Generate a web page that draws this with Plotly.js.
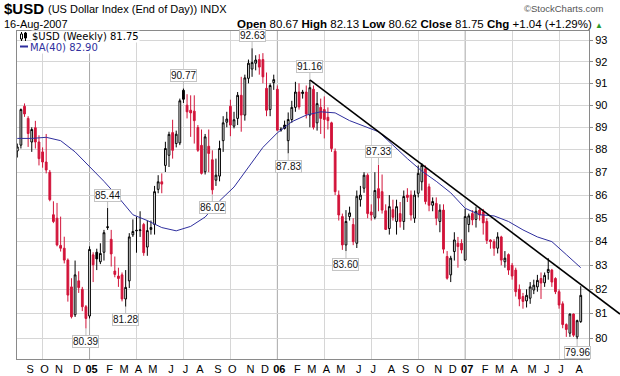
<!DOCTYPE html>
<html><head><meta charset="utf-8">
<script src="https://cdn.plot.ly/plotly-3.0.1.min.js"></script>
<style>html,body{margin:0;padding:0;background:#fff}#chart{width:620px;height:376px}</style>
</head><body><div id="chart"></div>
<script>
// Weekly bars, one per week starting Monday 2004-08-16
const firstWeek = '2004-08-16';
const open = [87.94,88.2,89.95,89.4,88.34,88.98,88.34,87.9,87.45,87.0,
85.15,85.0,83.84,83.72,83.22,82.1,80.95,82.35,82.0,81.28,
80.9,83.44,83.55,83.15,83.55,84.6,84.1,82.76,82.55,82.6,
81.6,82.35,84.29,84.46,84.47,84.73,83.77,84.52,84.73,86.25,
86.58,87.3,87.75,88.76,88.27,88.3,90.68,90.0,89.77,89.73,
88.99,88.19,87.02,88.15,87.55,86.65,86.83,88.4,89.23,89.95,
89.05,89.4,90.45,89.55,91.23,91.66,91.93,92.1,92.1,90.77,
89.8,91.03,90.73,88.92,89.1,88.4,89.35,89.9,90.6,90.53,
90.6,89.55,90.73,89.2,89.9,89.8,89.45,89.2,87.93,86.0,
85.07,83.86,85.07,84.73,83.93,85.8,86.3,86.87,85.27,85.04,
86.28,86.15,85.32,84.56,85.37,84.86,85.2,84.86,86.0,86.0,
85.0,86.08,86.58,87.15,86.36,85.56,85.64,84.86,85.35,83.37,
82.6,83.58,83.93,83.93,83.22,84.73,85.2,84.95,85.35,85.27,
84.86,84.07,84.0,83.72,84.2,83.15,83.45,83.0,82.8,82.0,
81.7,81.52,81.63,81.97,82.1,82.45,82.27,82.7,82.8,82.45,
81.9,81.4,80.55,80.2,80.98,80.05,80.67];
const high = [88.27,89.85,90.08,89.5,89.0,89.29,88.64,88.1,88.7,87.1,
85.73,85.66,85.07,84.21,83.29,82.46,83.2,82.75,82.1,81.35,
83.8,83.55,83.7,83.93,84.5,85.44,84.5,83.37,82.9,82.7,
82.8,84.36,84.95,85.07,85.3,84.8,84.9,84.9,86.4,86.87,
86.95,88.35,88.8,89.34,88.85,90.3,90.77,90.5,90.45,90.45,
89.1,88.9,88.7,88.9,87.97,87.6,88.4,89.5,89.7,90.25,
89.7,90.6,91.3,91.4,92.1,92.63,92.3,92.35,92.4,91.5,
91.0,91.4,90.9,89.0,89.3,89.67,90.2,91.07,91.0,90.7,
90.9,91.16,90.9,90.6,90.3,90.4,89.9,89.25,88.05,86.2,
85.2,85.35,85.5,85.0,86.2,86.4,87.0,86.95,85.6,87.0,
87.33,86.9,85.6,86.0,85.8,85.8,85.7,86.2,86.3,86.2,
86.2,87.3,87.4,87.3,86.5,85.9,85.9,85.6,85.6,83.6,
83.4,84.4,84.2,84.1,85.4,85.2,85.35,85.5,85.4,85.4,
85.0,84.1,84.1,84.4,84.25,83.6,83.5,83.1,82.9,82.2,
81.85,82.0,82.3,82.4,82.6,82.7,82.7,83.3,82.85,82.5,
82.0,81.5,80.6,81.0,81.0,80.75,82.13];
const low = [87.65,88.05,89.47,88.12,87.9,88.05,87.3,87.2,86.95,85.73,
84.79,83.8,83.58,83.08,81.49,80.8,80.86,81.85,81.1,80.39,
80.8,82.3,82.8,83.05,83.2,84.5,82.95,82.5,82.1,81.5,
81.28,82.05,84.2,83.53,84.2,83.4,83.4,84.3,84.3,86.08,
86.08,87.01,87.23,87.6,88.1,88.2,90.1,89.4,88.57,88.27,
87.9,86.9,86.9,87.0,86.02,86.4,86.6,87.9,89.0,88.6,
88.95,89.1,88.8,89.3,91.0,91.3,91.6,91.4,91.0,89.5,
89.5,90.7,88.85,88.8,88.9,87.83,89.2,89.7,89.8,90.3,
89.4,89.0,88.9,88.85,88.7,88.5,88.9,87.9,86.0,84.9,
83.65,83.6,84.9,83.85,83.73,85.5,86.1,85.0,84.9,84.95,
85.3,85.2,84.5,84.3,84.9,84.3,84.6,84.5,85.7,84.9,
84.8,85.9,86.2,85.6,85.3,85.3,84.7,84.4,83.5,82.4,
82.3,83.2,82.9,83.5,83.2,84.4,84.7,84.6,84.9,84.3,
83.9,83.7,83.4,83.5,83.0,82.9,82.6,82.4,81.7,81.3,
81.2,81.25,81.4,81.8,81.9,81.6,82.1,82.4,82.1,81.8,
81.2,80.4,80.05,80.05,80.05,79.96,80.62];
const close = [88.12,89.8,89.6,88.72,88.9,88.34,87.6,87.45,87.1,85.8,
84.86,83.86,83.72,83.22,81.76,80.87,82.6,82.07,81.28,80.8,
83.67,83.02,83.27,83.5,84.38,84.63,83.48,82.62,82.45,81.6,
82.08,84.2,84.43,84.48,84.5,83.53,84.47,84.6,86.15,86.58,
86.48,88.05,88.68,87.97,88.69,90.2,90.27,89.7,89.65,89.3,
87.97,86.95,88.57,87.83,86.23,86.87,88.05,89.2,89.37,89.1,
89.34,90.45,89.55,91.25,91.93,91.96,92.08,91.75,91.3,89.77,
90.9,91.17,88.87,88.88,88.95,89.35,89.9,90.6,89.92,90.6,
89.6,90.8,89.0,90.07,89.4,89.35,89.3,88.05,86.15,85.14,
83.86,84.86,85.23,84.0,85.95,86.0,86.87,85.2,85.14,86.2,
85.87,85.35,84.52,85.5,85.04,85.5,84.86,85.94,85.9,85.14,
86.0,86.95,87.3,85.72,85.56,85.72,85.0,85.35,83.68,82.46,
83.3,84.07,83.79,83.65,85.07,85.1,84.93,85.3,85.14,84.8,
84.05,84.0,83.72,84.2,83.22,83.3,82.8,82.55,81.9,81.6,
81.5,81.75,82.1,82.17,82.37,82.26,82.58,82.83,82.3,81.9,
81.35,80.55,80.35,80.98,80.12,80.71,81.75];

// 40-week moving average (week index, value)
const maWeek  = [0,4,8,12,16,20,24,28,32,36,40,44,48,52,56,60,64,68,72,76,80,84,88,92,96,100,104,108,112,116,120,124,128,132,136,140,144,148,152,156];
const maValue = [88.5,88.5,88.55,88.4,87.9,87.25,86.6,85.9,85.15,84.9,84.6,84.46,84.65,85.05,85.75,86.35,87.2,88.1,88.75,89.25,89.55,89.7,89.65,89.3,89.05,88.8,88.2,87.6,87.05,86.6,86.1,85.43,85.15,85.1,84.86,84.5,84.2,84.0,83.45,82.9];

// high / low callouts
const calloutWeek  = [19,25,30,46,54,65,75,81,91,100,155];
const calloutValue = [80.39,85.44,81.28,90.77,86.02,92.63,87.83,91.16,83.60,87.33,79.96];
const calloutSide  = ['below','above','below','above','below','above','below','above','below','above','below'];

// trend line anchors (week index, value)
const trendWeek  = [81,156];
const trendValue = [91.16,82.2];

const yTicks = [80,81,82,83,84,85,86,87,88,89,90,91,92,93];
const monthLetters = ['J','F','M','A','M','J','J','A','S','O','N','D'];

// ---------- layout geometry ----------
const W = 620, H = 376, ML = 17, MR = 31, MT = 31, MB = 17;
const PW = W - ML - MR, PH = H - MT - MB;
const X0 = '2004-08-15 10:00', X1 = '2007-08-29 00:00';
const Y0 = Math.log10(79.16), Y1 = Math.log10(93.44);
const px2x = px => (px - ML) / PW;
const py2y = py => (H - MB - py) / PH;

const DAY = 864e5;
const t0 = Date.parse(firstWeek + 'T00:00:00Z');
const weekMs = i => t0 + i * 7 * DAY;
const weekDate = i => new Date(weekMs(i)).toISOString().slice(0, 10);
const dates = open.map((_, i) => weekDate(i));

// split into black (close >= previous close) and red (close < previous close)
const up = [], dn = [];
close.forEach((c, i) => { const p = i ? close[i - 1] : open[i]; (c >= p ? up : dn).push(i); });
const pick = (arr, idx) => idx.map(i => arr[i]);
const RED = '#d2143a';
function candle(idx, col, fillDown) {
  return {
    type: 'candlestick', x: pick(dates, idx), open: pick(open, idx), high: pick(high, idx),
    low: pick(low, idx), close: pick(close, idx), whiskerwidth: 0, showlegend: false, hoverinfo: 'skip',
    increasing: { line: { color: col, width: 1 }, fillcolor: '#ffffff' },
    decreasing: { line: { color: col, width: 1 }, fillcolor: fillDown }
  };
}
const maTrace = {
  type: 'scatter', mode: 'lines', x: maWeek.map(weekDate), y: maValue,
  line: { color: '#2f2f9e', width: 1 }, showlegend: false, hoverinfo: 'skip'
};

// month ticks at first bar of each month
const tickVals = [], tickText = [], quarterVals = [], janVals = [];
let lastKey = '';
dates.forEach(d => {
  const key = d.slice(0, 7);
  if (key !== lastKey) {
    lastKey = key;
    const day = +d.slice(8, 10), m = +d.slice(5, 7) - 1;
    if (day <= 7) {
      tickVals.push(d);
      tickText.push(m === 0 ? '<b>' + d.slice(2, 4) + '</b>' : monthLetters[m]);
      if (m % 3 === 0) (m === 0 ? janVals : quarterVals).push(d);
    }
  }
});

// trend line (in paper coordinates so it can run past the plot edge like the original)
const xr0 = Date.parse(X0.replace(' ', 'T') + 'Z'), xr1 = Date.parse(X1.replace(' ', 'T') + 'Z');
const ms2paper = ms => (ms - xr0) / (xr1 - xr0);
const v2paper = v => (Math.log10(v) - Y0) / (Y1 - Y0);
const tpx = trendWeek.map(w => ms2paper(weekMs(w))), tpy = trendValue.map(v2paper);
const slope = (tpy[1] - tpy[0]) / (tpx[1] - tpx[0]);
const endPaper = px2x(W);
const trendEndY = tpy[0] + slope * (endPaper - tpx[0]);

const shapes = [
  { type: 'line', xref: 'paper', yref: 'paper', x0: tpx[0], y0: tpy[0], x1: endPaper, y1: trendEndY,
    line: { color: '#000', width: 1.6 }, layer: 'above' },
  // legend swatches
  { type: 'line', xref: 'paper', yref: 'paper', x0: px2x(20), x1: px2x(28), y0: py2y(46.5), y1: py2y(46.5),
    line: { color: '#2f2f9e', width: 2 } },
  { type: 'line', xref: 'paper', yref: 'paper', x0: px2x(21.5), x1: px2x(21.5), y0: py2y(32), y1: py2y(41), line: { color: '#000', width: 1 } },
  { type: 'rect', xref: 'paper', yref: 'paper', x0: px2x(20.5), x1: px2x(22.5), y0: py2y(34), y1: py2y(39), line: { color: '#000', width: 1 }, fillcolor: '#fff' },
  { type: 'line', xref: 'paper', yref: 'paper', x0: px2x(25.5), x1: px2x(25.5), y0: py2y(32), y1: py2y(41), line: { color: '#000', width: 1 } },
  { type: 'rect', xref: 'paper', yref: 'paper', x0: px2x(24.5), x1: px2x(26.5), y0: py2y(33), y1: py2y(38), line: { color: '#000', width: 1 }, fillcolor: '#000' }
];
janVals.forEach(d => shapes.push({ type: 'line', xref: 'x', yref: 'paper', x0: d, x1: d, y0: 0, y1: 1,
  line: { color: '#a8a8a8', width: 1 }, layer: 'below' }));

const F = 'Liberation Sans, Arial, sans-serif';
const annotations = [
  { xref: 'paper', yref: 'paper', x: 0, y: 1, xanchor: 'left', yanchor: 'top', xshift: -14, yshift: 32, showarrow: false,
    text: '<b>$USD</b>', font: { family: F, size: 15, color: '#000' }, borderpad: 0 },
  { xref: 'paper', yref: 'paper', x: 0, y: 1, xanchor: 'left', yanchor: 'top', xshift: 30, yshift: 29, showarrow: false,
    text: '(US Dollar Index (End of Day)) INDX', font: { family: F, size: 11, color: '#000' }, borderpad: 0 },
  { xref: 'paper', yref: 'paper', x: 0, y: 1, xanchor: 'left', yanchor: 'bottom', xshift: -14, yshift: 0, showarrow: false,
    text: '16-Aug-2007', font: { family: F, size: 11, color: '#000' }, borderpad: 0 },
  { xref: 'paper', yref: 'paper', x: 1, y: 1, xanchor: 'right', yanchor: 'bottom', xshift: 15, yshift: 0, showarrow: false,
    text: '<b>Open</b> 80.67 <b>High</b> 82.13 <b>Low</b> 80.62 <b>Close</b> 81.75 <b>Chg</b> +1.04 (+1.29%) <span style="color:#2a9a2a;font-size:8px">▲</span>',
    font: { family: F, size: 11.5, color: '#000' }, borderpad: 0 },
  { xref: 'paper', yref: 'paper', x: 1, y: 1, xanchor: 'right', yanchor: 'top', xshift: 15, yshift: 29, showarrow: false,
    text: '©StockCharts.com', font: { family: F, size: 9.5, color: '#555' }, borderpad: 0 },
  { xref: 'paper', yref: 'paper', x: 0, y: 1, xanchor: 'left', yanchor: 'middle', xshift: 14, yshift: -5, showarrow: false,
    text: '$USD (Weekly) 81.75', font: { family: 'DejaVu Sans, sans-serif', size: 10, color: '#000' }, bgcolor: '#fff', borderpad: 0 },
  { xref: 'paper', yref: 'paper', x: 0, y: 1, xanchor: 'left', yanchor: 'middle', xshift: 12, yshift: -16, showarrow: false,
    text: 'MA(40) 82.90', font: { family: 'DejaVu Sans, sans-serif', size: 10, color: '#2f2f9e' }, bgcolor: '#fff', borderpad: 0 }
];
calloutWeek.forEach((w, k) => {
  const above = calloutSide[k] === 'above';
  annotations.push({
    xref: 'x', yref: 'y', x: weekDate(w), y: Math.log10(calloutValue[k]), text: calloutValue[k].toFixed(2),
    showarrow: true, arrowhead: 0, arrowwidth: 1, arrowcolor: '#bdbdbd', ax: 0, ay: above ? -13 : 13, standoff: 0,
    font: { family: F, size: 10, color: '#111' }, bgcolor: '#fff', bordercolor: '#c4c4c4', borderwidth: 1, borderpad: 0
  });
});

const layout = {
  width: W, height: H, margin: { l: ML, r: MR, t: MT, b: MB, pad: 0 },
  paper_bgcolor: '#fff', plot_bgcolor: '#fff', showlegend: false,
  xaxis: {
    type: 'date', range: [X0, X1], rangeslider: { visible: false }, fixedrange: true,
    tickmode: 'array', tickvals: tickVals, ticktext: tickText, ticks: '', ticklabelshift: 2,
    showgrid: false, showline: true, linecolor: '#8a8a8a', mirror: true, zeroline: false,
    tickfont: { family: F, size: 11, color: '#000' },
    minor: { tickmode: 'array', tickvals: quarterVals, showgrid: true, gridcolor: '#d6d6d6', gridwidth: 1, ticks: '' }
  },
  yaxis: {
    type: 'log', side: 'right', range: [Y0, Y1], fixedrange: true,
    tickmode: 'array', tickvals: yTicks, ticktext: yTicks.map(String),
    ticks: 'outside', ticklen: 3, tickcolor: '#8a8a8a',
    showgrid: true, gridcolor: '#d6d6d6', gridwidth: 1, showline: true, linecolor: '#8a8a8a', mirror: true, zeroline: false,
    tickfont: { family: F, size: 11, color: '#000' }
  },
  shapes: shapes, annotations: annotations
};

Plotly.newPlot('chart', [candle(up, '#000000', '#000000'), candle(dn, RED, RED), maTrace], layout,
  { displayModeBar: false, staticPlot: true });
</script>
</body></html>
